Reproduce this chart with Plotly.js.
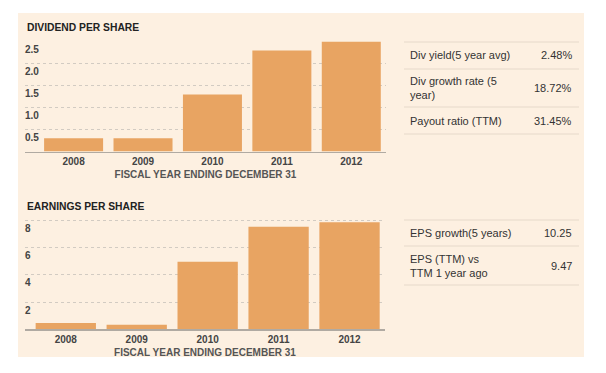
<!DOCTYPE html>
<html>
<head>
<meta charset="utf-8">
<script src="https://cdn.plot.ly/plotly-3.0.1.min.js"></script>
<style>html,body{margin:0;padding:0;background:#fff;}#chart{width:606px;height:373px;}</style>
</head>
<body>
<div id="chart"></div>
<script>
// ---- data ----
const years = ['2008', '2009', '2010', '2011', '2012'];
const dividendPerShare = [0.30, 0.30, 1.30, 2.30, 2.50];
const earningsPerShare = [0.46, 0.34, 4.95, 7.52, 7.84];
const divTickVals = [0.5, 1.0, 1.5, 2.0, 2.5];
const divTickText = ['0.5', '1.0', '1.5', '2.0', '2.5'];
const epsTickVals = [2, 4, 6, 8];
const epsTickText = ['2', '4', '6', '8'];
const divStatLabels = ['Div yield(5 year avg)', 'Div growth rate (5<br>year)', 'Payout ratio (TTM)'];
const divStatValues = ['2.48%', '18.72%', '31.45%'];
const epsStatLabels = ['EPS growth(5 years)', 'EPS (TTM) vs<br>TTM 1 year ago'];
const epsStatValues = ['10.25', '9.47'];
const divTitle = 'DIVIDEND PER SHARE';
const epsTitle = 'EARNINGS PER SHARE';
const xTitle = 'FISCAL YEAR ENDING DECEMBER 31';

// ---- layout helpers ----
const W = 606, H = 373;
const px = v => v / W;
const py = v => 1 - v / H;
const FONT = 'Liberation Sans, Arial, sans-serif';
const BAR = '#e8a462';
const BG = '#fdf0e1';
const TXT = '#333333';

const traces = [
  {type: 'bar', x: years, y: dividendPerShare, xaxis: 'x', yaxis: 'y',
   marker: {color: BAR, line: {width: 0}}, hoverinfo: 'x+y'},
  {type: 'bar', x: years, y: earningsPerShare, xaxis: 'x2', yaxis: 'y2',
   marker: {color: BAR, line: {width: 0}}, hoverinfo: 'x+y'}
];

function xAxis(domain, range, anchor) {
  return {
    domain: domain, range: range, type: 'category', anchor: anchor,
    showgrid: false, zeroline: false, fixedrange: true,
    showline: true, linecolor: '#b0aaa2', linewidth: 1.5,
    ticks: '', tickfont: {family: FONT, size: 10, color: '#444', weight: 'bold'},
    title: {text: xTitle, standoff: 5, font: {family: FONT, size: 10, color: '#555', weight: 'bold'}}
  };
}
function yAxis(domain, range, tv, tt, anchor) {
  return {
    domain: domain, range: range, anchor: anchor, fixedrange: true,
    tickvals: tv, ticktext: tt, showline: false, zeroline: false,
    showgrid: true, gridcolor: '#d2cbc2', griddash: 'dot', gridwidth: 1,
    ticks: '', ticklabelposition: 'inside', ticklabelstandoff: -3, ticklabelshift: 8,
    tickfont: {family: FONT, size: 10, color: '#444', weight: 'bold'}
  };
}

const annotations = [];
const shapes = [
  {type: 'rect', xref: 'paper', yref: 'paper', x0: px(18), x1: px(584), y0: py(357), y1: py(13),
   fillcolor: BG, line: {width: 0}, layer: 'below'}
];
function title(text, y) {
  annotations.push({xref: 'paper', yref: 'paper', x: px(25), y: py(y), xanchor: 'left', yanchor: 'middle',
    text: text, showarrow: false, font: {family: FONT, size: 10.3, color: '#222', weight: 'bold'}});
}
title(divTitle, 27);
title(epsTitle, 206);

function hline(y) {
  shapes.push({type: 'line', xref: 'paper', yref: 'paper', x0: px(404), x1: px(579), y0: py(y), y1: py(y),
    line: {color: '#e6d9ca', width: 1}});
}
function statTable(labels, values, lines) {
  lines.forEach(hline);
  labels.forEach((lab, i) => {
    const yc = (lines[i] + lines[i + 1]) / 2;
    annotations.push({xref: 'paper', yref: 'paper', x: px(408), y: py(yc), xanchor: 'left', yanchor: 'middle',
      align: 'left', text: lab, showarrow: false, font: {family: FONT, size: 11, color: TXT}});
    annotations.push({xref: 'paper', yref: 'paper', x: px(574), y: py(yc), xanchor: 'right', yanchor: 'middle',
      align: 'right', text: values[i], showarrow: false, font: {family: FONT, size: 11, color: TXT}});
  });
}
statTable(divStatLabels, divStatValues, [42, 69, 107, 134]);
statTable(epsStatLabels, epsStatValues, [220, 246, 285]);

const layout = {
  width: W, height: H, margin: {l: 0, r: 0, t: 0, b: 0},
  paper_bgcolor: '#ffffff', plot_bgcolor: 'rgba(0,0,0,0)',
  showlegend: false, bargap: 0.15,
  xaxis: xAxis([px(25), px(386)], [-0.7, 4.5], 'y'),
  yaxis: yAxis([py(151.5), py(151.5 - 2.52 * 43.9)], [0, 2.52], divTickVals, divTickText, 'x'),
  xaxis2: xAxis([px(25), px(385)], [-0.575, 4.5], 'y2'),
  yaxis2: yAxis([py(329.3), py(329.3 - 8.1 * 13.65)], [0, 8.1], epsTickVals, epsTickText, 'x2'),
  annotations: annotations, shapes: shapes
};

Plotly.newPlot('chart', traces, layout, {displayModeBar: false, staticPlot: true});
</script>
</body>
</html>
